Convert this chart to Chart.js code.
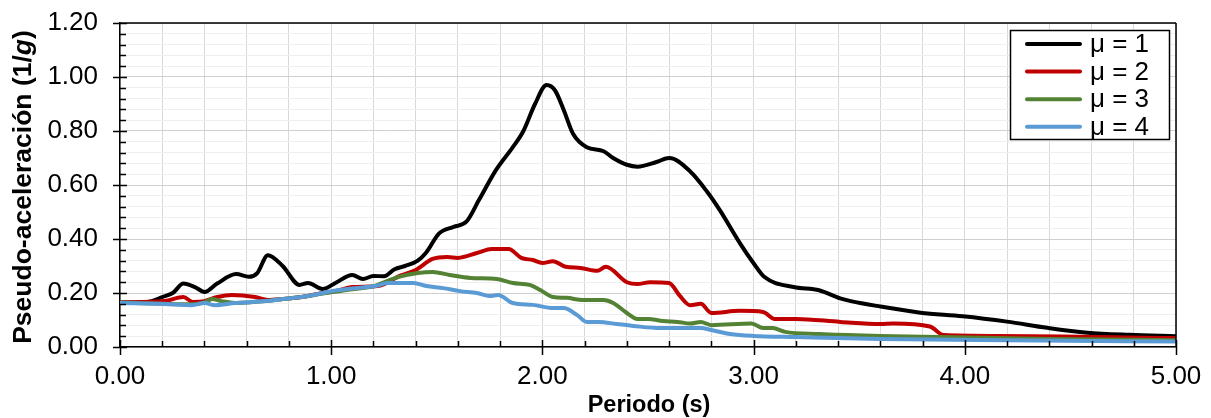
<!DOCTYPE html>
<html>
<head>
<meta charset="utf-8">
<script src="https://cdn.jsdelivr.net/npm/chart.js@4/dist/chart.umd.min.js"></script>
<style>
  html, body { margin: 0; padding: 0; background: #fff; }
  #wrap { width: 1211px; height: 418px; }
</style>
</head>
<body>
<div id="wrap"><canvas id="chart" width="1211" height="418"></canvas></div>
<script>
// periodos (s) y pseudo-aceleración
const periodos1 = [0.00, 0.10, 0.15, 0.20, 0.25, 0.30, 0.355, 0.40, 0.46, 0.55, 0.61, 0.65, 0.70, 0.77, 0.85, 0.89, 0.96, 1.02, 1.10, 1.15, 1.20, 1.25, 1.30, 1.35, 1.41, 1.45, 1.51, 1.58, 1.64, 1.70, 1.78, 1.86, 1.91, 1.965, 2.02, 2.06, 2.10, 2.145, 2.21, 2.29, 2.335, 2.40, 2.45, 2.54, 2.60, 2.70, 2.78, 2.84, 2.935, 3.00, 3.05, 3.19, 3.31, 3.41, 3.46, 3.60, 3.79, 3.99, 4.20, 4.39, 4.58, 4.78, 5.00];
const mu1 = [0.165, 0.165, 0.17, 0.185, 0.20, 0.235, 0.222, 0.204, 0.235, 0.27, 0.26, 0.274, 0.34, 0.30, 0.23, 0.237, 0.215, 0.237, 0.267, 0.252, 0.263, 0.262, 0.288, 0.30, 0.32, 0.35, 0.42, 0.445, 0.464, 0.545, 0.655, 0.74, 0.80, 0.90, 0.97, 0.95, 0.88, 0.79, 0.74, 0.725, 0.70, 0.675, 0.668, 0.685, 0.70, 0.65, 0.575, 0.507, 0.385, 0.31, 0.26, 0.222, 0.21, 0.18, 0.17, 0.15, 0.127, 0.114, 0.094, 0.071, 0.053, 0.045, 0.04];

const periodos2 = [0.00, 0.21, 0.30, 0.345, 0.40, 0.46, 0.53, 0.64, 0.70, 0.77, 0.86, 0.96, 1.02, 1.10, 1.22, 1.33, 1.40, 1.48, 1.55, 1.60, 1.69, 1.76, 1.84, 1.90, 1.955, 2.00, 2.05, 2.11, 2.18, 2.26, 2.30, 2.40, 2.45, 2.51, 2.60, 2.65, 2.70, 2.75, 2.80, 2.935, 3.045, 3.10, 3.20, 3.41, 3.60, 3.66, 3.835, 3.90, 4.15, 5.00];
const mu2 = [0.165, 0.17, 0.185, 0.167, 0.17, 0.185, 0.193, 0.185, 0.174, 0.178, 0.185, 0.20, 0.207, 0.222, 0.226, 0.265, 0.285, 0.326, 0.333, 0.33, 0.348, 0.363, 0.363, 0.33, 0.322, 0.311, 0.318, 0.297, 0.293, 0.282, 0.297, 0.24, 0.233, 0.24, 0.237, 0.19, 0.155, 0.16, 0.126, 0.134, 0.13, 0.104, 0.104, 0.093, 0.085, 0.087, 0.076, 0.044, 0.041, 0.033];

const periodos3 = [0.00, 0.21, 0.34, 0.40, 0.435, 0.48, 0.545, 0.69, 0.77, 0.86, 0.96, 1.02, 1.11, 1.20, 1.24, 1.32, 1.41, 1.48, 1.56, 1.66, 1.785, 1.86, 1.94, 1.99, 2.05, 2.115, 2.19, 2.29, 2.335, 2.40, 2.45, 2.50, 2.57, 2.64, 2.70, 2.75, 2.80, 2.99, 3.045, 3.09, 3.15, 3.31, 3.60, 3.88, 4.40, 5.00];
const mu3 = [0.165, 0.16, 0.158, 0.165, 0.178, 0.17, 0.163, 0.17, 0.178, 0.185, 0.198, 0.205, 0.215, 0.225, 0.237, 0.26, 0.274, 0.278, 0.267, 0.256, 0.252, 0.237, 0.23, 0.211, 0.185, 0.182, 0.174, 0.174, 0.163, 0.126, 0.104, 0.104, 0.096, 0.093, 0.087, 0.093, 0.081, 0.087, 0.07, 0.07, 0.056, 0.048, 0.041, 0.037, 0.03, 0.025];

const periodos4 = [0.00, 0.21, 0.34, 0.40, 0.45, 0.545, 0.69, 0.77, 0.86, 0.96, 1.00, 1.11, 1.21, 1.27, 1.39, 1.45, 1.53, 1.61, 1.69, 1.75, 1.79, 1.86, 1.955, 2.05, 2.10, 2.165, 2.21, 2.27, 2.35, 2.43, 2.56, 2.75, 2.80, 2.89, 3.00, 3.20, 3.60, 4.20, 5.00];
const mu4 = [0.163, 0.159, 0.155, 0.163, 0.155, 0.163, 0.17, 0.178, 0.185, 0.20, 0.207, 0.218, 0.226, 0.237, 0.237, 0.226, 0.218, 0.207, 0.20, 0.189, 0.193, 0.163, 0.156, 0.144, 0.144, 0.118, 0.093, 0.093, 0.085, 0.078, 0.07, 0.07, 0.063, 0.048, 0.041, 0.037, 0.03, 0.025, 0.02];

const etiquetas = ['μ = 1', 'μ = 2', 'μ = 3', 'μ = 4'];
const colores = ['#000000', '#c00000', '#548235', '#5b9bd5'];

const FONT = '"Liberation Sans", Arial, sans-serif';

const toXY = (xs, ys) => xs.map((x, i) => ({ x: x, y: ys[i] }));
const isMult = (v, step) => Math.abs(v / step - Math.round(v / step)) < 1e-6;
const sinPadding = s => { s.paddingTop = 0; s.paddingBottom = 0; s.paddingLeft = 0; s.paddingRight = 0; };

// ticks, marco y títulos dibujados a mano
const extras = {
  id: 'extras',
  afterDraw(chart) {
    const ctx = chart.ctx;
    const a = chart.chartArea;
    const xs = chart.scales.x, ys = chart.scales.y;
    ctx.save();
    ctx.strokeStyle = '#000';
    ctx.lineWidth = 1.5;
    ctx.beginPath();
    // marco superior y derecho
    ctx.moveTo(a.left, a.top); ctx.lineTo(a.right, a.top);
    ctx.moveTo(a.right, a.top); ctx.lineTo(a.right, a.bottom);
    // ticks eje y
    for (let i = 0; i <= 30; i++) {
      const v = i * 0.04;
      const py = Math.round(ys.getPixelForValue(v)) + 0.5;
      if (isMult(v, 0.2)) { ctx.moveTo(a.left - 7, py); ctx.lineTo(a.left + 7, py); }
      else { ctx.moveTo(a.left, py); ctx.lineTo(a.left + 6, py); }
    }
    // ticks eje x
    for (let i = 0; i <= 25; i++) {
      const v = i * 0.2;
      const px = Math.round(xs.getPixelForValue(v)) + 0.5;
      if (isMult(v, 1)) { ctx.moveTo(px, a.bottom - 7); ctx.lineTo(px, a.bottom + 8); }
      else { ctx.moveTo(px, a.bottom - 6); ctx.lineTo(px, a.bottom); }
    }
    ctx.stroke();

    // título eje x
    ctx.fillStyle = '#000';
    ctx.font = 'bold 23.5px ' + FONT;
    ctx.textAlign = 'center';
    ctx.textBaseline = 'alphabetic';
    ctx.fillText('Periodo (s)', 649, 412);

    // título eje y con g en cursiva
    const parts = [
      ['bold 26.5px ' + FONT, 'Pseudo-aceleración (1/'],
      ['italic bold 26.5px ' + FONT, 'g'],
      ['bold 26.5px ' + FONT, ')']
    ];
    let total = 0;
    parts.forEach(p => { ctx.font = p[0]; total += ctx.measureText(p[1]).width; });
    ctx.translate(31, 187);
    ctx.rotate(-Math.PI / 2);
    ctx.textAlign = 'left';
    let cx = -total / 2;
    parts.forEach(p => { ctx.font = p[0]; ctx.fillText(p[1], cx, 0); cx += ctx.measureText(p[1]).width; });
    ctx.restore();

    // leyenda con recuadro
    ctx.save();
    ctx.fillStyle = '#fff';
    ctx.fillRect(1010, 30, 160, 110);
    ctx.strokeStyle = '#000';
    ctx.lineWidth = 1.5;
    ctx.strokeRect(1010.5, 30.5, 159, 109);
    ctx.font = '26px ' + FONT;
    ctx.textBaseline = 'middle';
    ctx.textAlign = 'left';
    chart.data.datasets.forEach((ds, i) => {
      const y = 44 + i * 27.6;
      ctx.strokeStyle = ds.borderColor;
      ctx.lineWidth = 4;
      ctx.lineCap = 'round';
      ctx.beginPath(); ctx.moveTo(1027, y); ctx.lineTo(1080, y); ctx.stroke();
      ctx.fillStyle = '#000';
      ctx.fillText(ds.label, 1090, y + 1);
    });
    ctx.restore();
  }
};

const series = [
  [periodos1, mu1], [periodos2, mu2], [periodos3, mu3], [periodos4, mu4]
];

new Chart(document.getElementById('chart'), {
  type: 'line',
  data: {
    datasets: series.map((s, i) => ({
      label: etiquetas[i],
      data: toXY(s[0], s[1]),
      borderColor: colores[i],
      backgroundColor: colores[i],
      borderWidth: 4,
      pointRadius: 0,
      tension: 0.3,
      cubicInterpolationMode: 'monotone',
      fill: false,
      order: 4 - i
    }))
  },
  options: {
    responsive: false,
    animation: false,
    layout: { padding: { top: 23, right: 35, left: 0, bottom: 0 } },
    plugins: { legend: { display: false }, tooltip: { enabled: false } },
    scales: {
      x: {
        type: 'linear',
        min: 0, max: 5,
        afterFit: s => { s.height = 71; sinPadding(s); },
        ticks: {
          stepSize: 0.2,
          autoSkip: false,
          maxRotation: 0,
          padding: 14,
          color: '#000',
          font: { family: FONT, size: 26 },
          callback: v => isMult(v, 1) ? v.toFixed(2) : ''
        },
        grid: { color: '#d9d9d9', lineWidth: 1, drawTicks: false },
        border: { color: '#000', width: 1.5 }
      },
      y: {
        min: 0, max: 1.2,
        afterFit: s => { s.width = 120; sinPadding(s); },
        ticks: {
          stepSize: 0.04,
          autoSkip: false,
          padding: 22,
          color: '#000',
          font: { family: FONT, size: 26 },
          callback: v => isMult(v, 0.2) ? v.toFixed(2) : ''
        },
        grid: {
          color: c => isMult(c.tick.value, 0.2) ? '#d0d0d0' : '#efefef',
          lineWidth: 1,
          drawTicks: false
        },
        border: { color: '#000', width: 1.5 }
      }
    }
  },
  plugins: [extras]
});
</script>
</body>
</html>
